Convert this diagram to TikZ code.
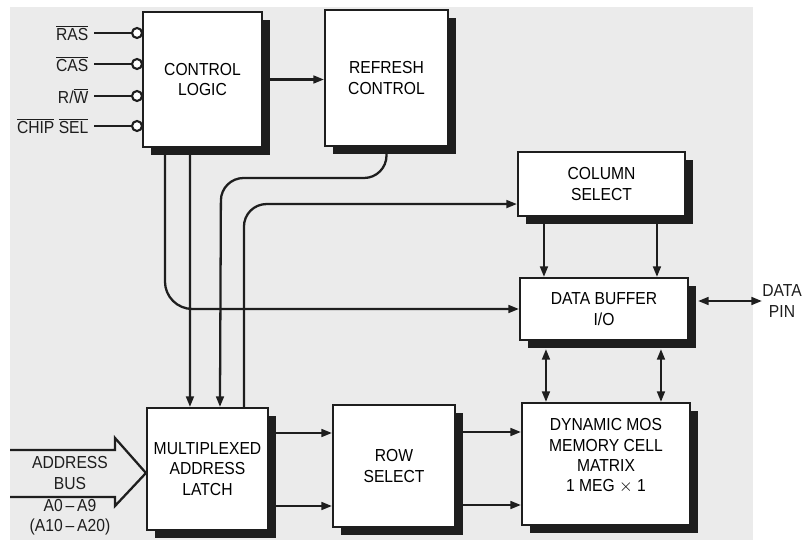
\documentclass[tikz,border=0pt]{standalone}
\usepackage{fontspec}
\setmainfont{Liberation Sans}[FakeStretch=0.9]
\usetikzlibrary{arrows.meta, positioning, calc, backgrounds, shadows}
\usepackage{xcolor}
\definecolor{paper}{HTML}{EBEBEB}
\definecolor{ink}{HTML}{1E1E1E}

\begin{document}
\begin{tikzpicture}[
    x=0.02cm, y=-0.02cm,
    font=\fontsize{9.9pt}{11.6pt}\selectfont,
    blk/.style={draw=ink, fill=white, line width=1.2pt, align=center, inner sep=0pt,
        drop shadow={shadow xshift=0.16cm, shadow yshift=-0.16cm, fill=ink, opacity=1}},
    sig/.style={anchor=east, inner sep=3pt, text=ink},
    bubble/.style={circle, draw=ink, fill=white, line width=1.2pt, minimum size=0.2cm, inner sep=0pt},
    lbl/.style={align=center, inner sep=0pt, text=ink},
    wire/.style={line width=1.3pt, color=ink},
    arr/.style={-{Triangle[length=6pt, width=4.4pt]}, line width=1.3pt, color=ink},
    dbl/.style={{Triangle[length=6pt, width=4.4pt]}-{Triangle[length=6pt, width=4.4pt]}, line width=1.3pt, color=ink},
]
\useasboundingbox (0,0) rectangle (810,540);
\node[blk, minimum width=2.38cm, minimum height=2.7cm] (ctrl) at (202.5,79.5) {CONTROL\\LOGIC};
\node[blk, minimum width=2.46cm, minimum height=2.72cm] (refresh) at (386.5,78) {REFRESH\\CONTROL};
\node[blk, minimum width=3.34cm, minimum height=1.28cm] (colsel) at (601.5,184) {COLUMN\\SELECT};
\node[blk, minimum width=3.36cm, minimum height=1.24cm] (databuf) at (604,309) {DATA BUFFER\\I/O};
\node[blk, minimum width=3.36cm, minimum height=2.44cm] (mem) at (606,464) {DYNAMIC MOS\\MEMORY CELL\\MATRIX\\1 MEG $\times$ 1\\[-1.5pt]};
\node[blk, minimum width=2.44cm, minimum height=2.44cm] (rowsel) at (394,466) {ROW\\SELECT};
\node[blk, minimum width=2.42cm, minimum height=2.44cm] (mux) at (207.5,469) {MULTIPLEXED\\ADDRESS\\LATCH};

% control inputs
\node[sig] (ras) at (94,33) {$\overline{\mbox{RAS}}$};
\node[sig] (cas) at (94,64) {$\overline{\mbox{CAS}}$};
\node[sig] (rw) at (94,96) {R/$\overline{\mbox{W}}$};
\node[sig] (chipsel) at (94,126) {$\overline{\mbox{CHIP}}$ $\overline{\mbox{SEL}}$};
\node[bubble] (rasb) at (137,33) {};
\node[bubble] (casb) at (137,64) {};
\node[bubble] (rwb) at (137,96) {};
\node[bubble] (chipselb) at (137,126) {};

\node[lbl] (pin) at (782,301) {DATA\\PIN};
\node[lbl] (busname) at (70,473) {ADDRESS\\BUS};
\node[lbl] (buslines) at (70,517) {A0\,--\,A9\\(A10\,--\,A20)};

\begin{scope}[on background layer]
    \fill[paper] (10,7) rectangle (753,540);
    \draw[wire] (ras.east) -- (rasb);
    \draw[wire] (cas.east) -- (casb);
    \draw[wire] (rw.east) -- (rwb);
    \draw[wire] (chipsel.east) -- (chipselb);
    \draw[arr] (ctrl.east) -- (ctrl.east -| refresh.west);
    \draw[arr, rounded corners=0.55cm] ($(ctrl.south west)+(23,0)$) |- (databuf.west);
    \draw[arr] ($(ctrl.south west)+(48,0)$) -- ($(mux.north west)+(44,0)$);
    \draw[arr, rounded corners=0.45cm] (refresh.south) |- (221,178) -- ($(mux.north west)+(74,0)$);
    \draw[arr, rounded corners=0.45cm] ($(mux.north west)+(98,0)$) |- ($(colsel.south west)+(0,-13)$);
    \draw[arr] ($(mux.east)+(0,-36)$) -- ($(rowsel.west)+(0,-33)$);
    \draw[arr] ($(mux.east)+(0,37)$) -- ($(rowsel.west)+(0,40)$);
    \draw[arr] ($(rowsel.east)+(0,-34)$) -- ($(mem.west)+(0,-32)$);
    \draw[arr] ($(rowsel.east)+(0,39)$) -- ($(mem.west)+(0,41)$);
    \draw[arr] ($(colsel.south west)+(27,0)$) -- ($(databuf.north west)+(25,0)$);
    \draw[arr] ($(colsel.south west)+(140,0)$) -- ($(databuf.north west)+(138,0)$);
    \draw[dbl, shorten <=0.16cm] ($(databuf.south west)+(27,0)$) -- ($(mem.north west)+(25,0)$);
    \draw[dbl, shorten <=0.16cm] ($(databuf.south west)+(142,0)$) -- ($(mem.north west)+(140,0)$);
    \draw[dbl, shorten <=0.18cm] (databuf.east |- pin.west) -- (pin.west);
    % address bus
    \draw[wire, line join=miter] (10,450) -- (115,450) -- (115,438) -- ($(mux.west)+(0,4)$)
        -- (115,506) -- (115,497) -- (10,497);
\end{scope}
\end{tikzpicture}
\end{document}
